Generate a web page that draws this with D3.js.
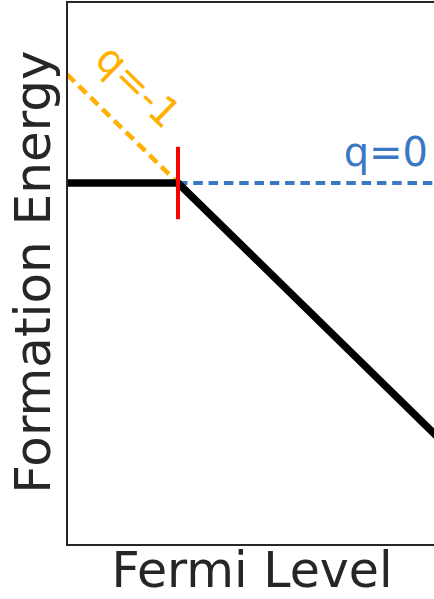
<!DOCTYPE html>
<html>
<head>
<meta charset="utf-8">
<script src="https://cdn.jsdelivr.net/npm/d3@7"></script>
<style>
  html, body { margin: 0; padding: 0; background: #fff; }
  svg { display: block; }
</style>
</head>
<body>
<svg id="chart" width="434" height="599"></svg>
<script>
// Charge states of the defect and their formation-energy lines E = E0 + q * EF
const chargeStates = [0, -1];
const chargeLabels = ["q=0", "q=-1"];
const referenceEnergy = [1.5, 1.95];   // formation energy at EF = 0 for each charge state
const transitionLevel = 0.45;          // Fermi level where q=0 and q=-1 cross
const fermiRange = [0, 1.5];
const energyRange = [0, 2.25];

const W = 434, H = 599;
const margin = { left: 67, top: 2, right: -3, bottom: 54 };

const svg = d3.select("#chart");

const x = d3.scaleLinear().domain(fermiRange).range([margin.left, W - margin.right]);
const y = d3.scaleLinear().domain(energyRange).range([H - margin.bottom, margin.top]);

const energy = (i, ef) => referenceEnergy[i] + chargeStates[i] * ef;

const line = d3.line().x(d => x(d[0])).y(d => y(d[1]));

// q=0 branch above the transition level (dashed, blue)
svg.append("path")
  .datum([[transitionLevel, energy(0, transitionLevel)], [fermiRange[1], energy(0, fermiRange[1])]])
  .attr("d", line)
  .attr("fill", "none")
  .attr("stroke", "#3a78c4")
  .attr("stroke-width", 4)
  .attr("stroke-dasharray", "9.5,5.8");

// q=-1 branch below the transition level (dashed, orange)
svg.append("path")
  .datum([[fermiRange[0], energy(1, fermiRange[0])], [transitionLevel, energy(1, transitionLevel)]])
  .attr("d", line)
  .attr("fill", "none")
  .attr("stroke", "#ffb000")
  .attr("stroke-width", 4.5)
  .attr("stroke-dasharray", "10.5,6");

// Lowest-energy envelope
const envelope = [
  [fermiRange[0], energy(0, fermiRange[0])],
  [transitionLevel, energy(0, transitionLevel)],
  [fermiRange[1], energy(1, fermiRange[1])]
];
svg.append("path")
  .datum(envelope)
  .attr("d", line)
  .attr("fill", "none")
  .attr("stroke", "#000")
  .attr("stroke-width", 7.5)
  .attr("stroke-linejoin", "miter");

// Transition level marker
const eT = energy(0, transitionLevel);
svg.append("line")
  .attr("x1", x(transitionLevel)).attr("x2", x(transitionLevel))
  .attr("y1", y(eT + 0.15)).attr("y2", y(eT - 0.15))
  .attr("stroke", "#ff0000")
  .attr("stroke-width", 4);

// Charge-state labels
svg.append("text")
  .attr("x", 428).attr("y", 166)
  .attr("text-anchor", "end")
  .attr("font-family", "DejaVu Sans")
  .attr("font-size", 40)
  .attr("fill", "#3a78c4")
  .text(chargeLabels[0]);

const slopeAngle = Math.atan2(y(energy(1, 1)) - y(energy(1, 0)), x(1) - x(0)) * 180 / Math.PI;
const lx = x(0.25), ly = y(1.86);
svg.append("text")
  .attr("transform", `translate(${lx},${ly}) rotate(${slopeAngle})`)
  .attr("text-anchor", "middle")
  .attr("font-family", "DejaVu Sans")
  .attr("font-size", 40)
  .attr("fill", "#ffb000")
  .text(chargeLabels[1]);

// Axes frame (left, top, bottom spines; right edge runs past the view)
const frame = svg.append("g").attr("stroke", "#262626").attr("stroke-width", 2).attr("fill", "none");
frame.append("rect")
  .attr("x", x(fermiRange[0])).attr("y", y(energyRange[1]))
  .attr("width", x(fermiRange[1]) - x(fermiRange[0]))
  .attr("height", y(energyRange[0]) - y(energyRange[1]));

// Axis titles
svg.append("text")
  .attr("x", 252).attr("y", 587)
  .attr("text-anchor", "middle")
  .attr("font-family", "DejaVu Sans")
  .attr("font-size", 49)
  .attr("fill", "#262626")
  .text("Fermi Level");

svg.append("text")
  .attr("transform", `translate(50,272) rotate(-90)`)
  .attr("text-anchor", "middle")
  .attr("font-family", "DejaVu Sans")
  .attr("font-size", 50)
  .attr("fill", "#262626")
  .text("Formation Energy");
</script>
</body>
</html>
